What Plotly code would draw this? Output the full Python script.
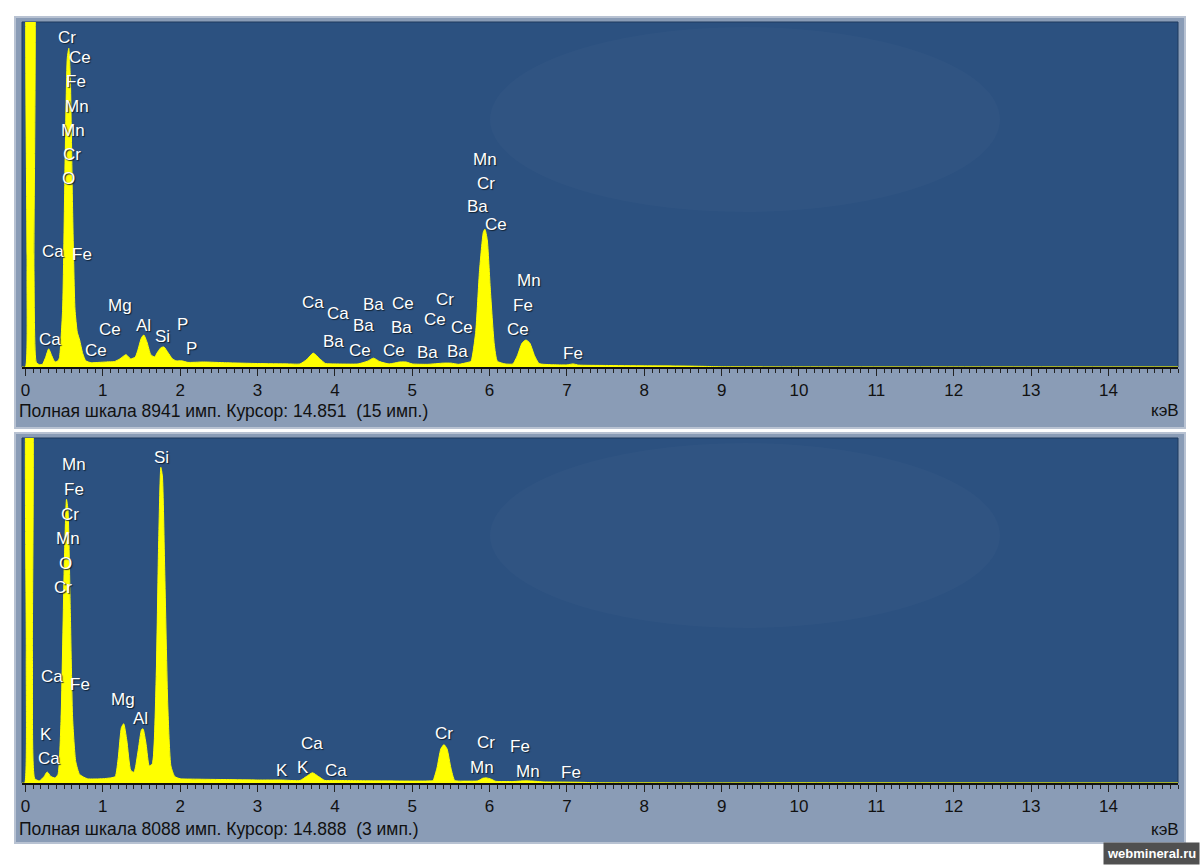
import plotly.graph_objects as go

# ---------------- data ----------------
top_keV = [-0.045, 0.00, 0.02, 0.04, 0.09, 0.11, 0.14, 0.18, 0.22, 0.26, 0.30, 0.34, 0.38, 0.42,
           0.44, 0.48, 0.51, 0.54, 0.56, 0.58, 0.61, 0.64, 0.67, 0.70, 0.74, 0.78, 0.85, 0.95, 1.05,
           1.15, 1.22, 1.30, 1.36, 1.42, 1.45, 1.50, 1.53, 1.57, 1.62, 1.67, 1.70, 1.75, 1.79, 1.84,
           1.90, 1.95, 2.02, 2.10, 2.30, 2.60, 3.00, 3.40, 3.55, 3.64, 3.72, 3.80, 3.88, 4.00, 4.30,
           4.42, 4.50, 4.58, 4.70, 4.84, 4.92, 5.00, 5.20, 5.40, 5.50, 5.60, 5.72, 5.76, 5.82, 5.87,
           5.92, 5.94, 5.97, 6.01, 6.06, 6.10, 6.20, 6.30, 6.36, 6.42, 6.47, 6.52, 6.58, 6.64, 6.80,
           7.00, 7.08, 7.15, 7.50, 8.00, 8.50, 8.80, 9.00, 10.0, 12.0, 14.9]
top_counts = [0, 0, 2500, 12000, 12000, 2500, 120, 60, 70, 250, 470, 290, 130, 160,
              250, 1500, 5000, 8000, 8260, 7500, 4000, 1500, 900, 700, 350, 160, 110, 120, 130,
              140, 210, 320, 210, 260, 420, 760, 830, 650, 320, 260, 360, 500, 520, 380,
              210, 160, 160, 120, 130, 110, 90, 80, 80, 200, 360, 220, 90, 80, 80,
              150, 230, 140, 80, 130, 130, 80, 70, 100, 100, 70, 120, 150, 900, 2500,
              3500, 3570, 3300, 2000, 600, 150, 80, 80, 300, 620, 700, 620, 300, 90, 60,
              55, 80, 50, 40, 30, 25, 15, 5, 3, 2, 2]

bot_keV = [-0.045, -0.01, 0.01, 0.03, 0.07, 0.09, 0.12, 0.18, 0.24, 0.28, 0.33, 0.38, 0.42, 0.46,
           0.50, 0.53, 0.55, 0.58, 0.61, 0.65, 0.70, 0.80, 1.00, 1.10, 1.16, 1.20, 1.24, 1.27, 1.31,
           1.36, 1.40, 1.42, 1.46, 1.50, 1.52, 1.56, 1.60, 1.64, 1.69, 1.72, 1.75, 1.77, 1.80,
           1.84, 1.88, 1.93, 2.00, 2.20, 2.60, 3.00, 3.30, 3.55, 3.63, 3.71, 3.79, 3.87, 4.00, 4.50,
           5.00, 5.25, 5.27, 5.32, 5.37, 5.41, 5.45, 5.50, 5.55, 5.70, 5.85, 5.91, 5.96, 6.02, 6.08,
           6.30, 6.45, 6.55, 6.70, 7.00, 7.20, 7.40, 10.0, 14.9]
bot_counts = [0, 0, 3000, 10000, 10000, 3000, 100, 50, 150, 260, 150, 120, 200, 1500,
              5000, 6650, 6400, 4000, 1500, 500, 200, 100, 100, 120, 150, 600, 1300, 1390, 1000,
              300, 250, 350, 800, 1250, 1270, 900, 400, 450, 2500, 5500, 7400, 7200, 5000,
              1800, 400, 150, 100, 90, 80, 70, 70, 60, 150, 240, 150, 60, 60, 50,
              45, 50, 60, 350, 800, 900, 800, 350, 60, 45, 50, 110, 120, 90, 40,
              35, 50, 45, 25, 20, 15, 5, 3, 2]

top_full_scale = 8941
bot_full_scale = 8088

top_labels = ["Cr", "Ce", "Fe", "Mn", "Mn", "Cr", "O", "Ca", "Fe", "Mg", "Ce", "Al", "Si", "P", "P",
              "Ca", "Ce", "Ca", "Ca", "Ba", "Ba", "Ba", "Ce", "Ce", "Ba", "Ce", "Cr", "Ce", "Ce",
              "Ba", "Ba", "Mn", "Cr", "Ba", "Ce", "Mn", "Fe", "Ce", "Fe"]
top_label_x = [0.54, 0.71, 0.65, 0.67, 0.61, 0.60, 0.55, 0.36, 0.73, 1.22, 1.09, 1.52, 1.77, 2.03, 2.15,
               0.32, 0.91, 3.72, 4.04, 3.98, 4.50, 4.37, 4.33, 4.88, 4.86, 4.76, 5.43, 5.30, 5.64,
               5.20, 5.58, 5.94, 5.96, 5.84, 6.08, 6.51, 6.43, 6.37, 7.08]
top_label_y = [8550, 8030, 7400, 6750, 6130, 5500, 4875, 3000, 2920, 1590, 960, 1070, 780, 1100, 470,
               700, 440, 1670, 1380, 650, 1620, 1070, 440, 1640, 1020, 420, 1750, 1220, 1020,
               370, 390, 5370, 4745, 4170, 3700, 2240, 1590, 960, 340]

bot_labels = ["Mn", "Fe", "Cr", "Mn", "O", "Cr", "Ca", "Fe", "Si", "Mg", "Al", "K", "Ca",
              "Ca", "K", "K", "Ca", "Cr", "Cr", "Mn", "Fe", "Mn", "Fe"]
bot_label_x = [0.63, 0.63, 0.58, 0.55, 0.52, 0.49, 0.34, 0.70, 1.755, 1.26, 1.49, 0.26, 0.31,
               3.70, 3.31, 3.59, 4.02, 5.41, 5.95, 5.90, 6.39, 6.50, 7.05]
bot_label_y = [7475, 6885, 6300, 5730, 5140, 4575, 2500, 2310, 7640, 1960, 1510, 1130, 570,
               920, 300, 355, 300, 1150, 945, 355, 850, 260, 240]

top_status = "Полная шкала 8941 имп. Курсор: 14.851  (15 имп.)"
bot_status = "Полная шкала 8088 имп. Курсор: 14.888  (3 имп.)"
unit_label = "кэВ"
tick_vals = list(range(0, 15))

# ---------------- figure ----------------
W, H = 1200, 865
PLOT_BLUE = "#2c5180"
GRAY = "#8a9cb6"
YELLOW = "#ffff00"
FONT = "Liberation Sans, Arial, sans-serif"

def py(p):  # pixel row -> paper y
    return 1 - p / H

def px(p):
    return p / W

fig = go.Figure()
fig.add_trace(go.Scatter(x=top_keV, y=top_counts, mode="lines", fill="tozeroy",
                         line=dict(color=YELLOW, width=1, shape="spline", smoothing=0.5),
                         fillcolor=YELLOW, xaxis="x", yaxis="y", hoverinfo="skip", showlegend=False))
fig.add_trace(go.Scatter(x=bot_keV, y=bot_counts, mode="lines", fill="tozeroy",
                         line=dict(color=YELLOW, width=1, shape="spline", smoothing=0.5),
                         fillcolor=YELLOW, xaxis="x2", yaxis="y2", hoverinfo="skip", showlegend=False))

shapes = []
annotations = []
panels = [
    dict(frame=(17, 428), plot=(22, 367), status=top_status, sy=411),
    dict(frame=(433, 843), plot=(438, 783), status=bot_status, sy=829),
]
for p in panels:
    f0, f1 = p["frame"]
    p0, p1 = p["plot"]
    shapes.append(dict(type="rect", xref="paper", yref="paper", x0=px(15), x1=px(1185),
                       y0=py(f1), y1=py(f0), fillcolor=GRAY, line=dict(color="#b8c2d2", width=2),
                       layer="below"))
    shapes.append(dict(type="rect", xref="paper", yref="paper", x0=px(22), x1=px(1178),
                       y0=py(p1), y1=py(p0), fillcolor=PLOT_BLUE, line=dict(color="#1f3a5e", width=1),
                       layer="below"))
    # faint lighter blotch like the background image
    shapes.append(dict(type="circle", xref="paper", yref="paper", x0=px(490), x1=px(1000),
                       y0=py(p0 + 190), y1=py(p0 + 5), fillcolor="rgba(255,255,255,0.02)",
                       line=dict(width=0), layer="below"))
    annotations.append(dict(xref="paper", yref="paper", x=px(17), y=py(p["sy"]), text=p["status"],
                            showarrow=False, xanchor="left", yanchor="middle",
                            font=dict(family=FONT, size=17.5, color="#111111")))
    annotations.append(dict(xref="paper", yref="paper", x=px(1181), y=py(p["sy"]), text=unit_label,
                            showarrow=False, xanchor="right", yanchor="middle",
                            font=dict(family=FONT, size=17, color="#111111")))

label_font = dict(family=FONT, size=17, color="white", shadow="1px 1px 1px #102030")
for txt, lx, ly in zip(top_labels, top_label_x, top_label_y):
    annotations.append(dict(x=lx, y=ly, xref="x", yref="y", text=txt, showarrow=False,
                            xanchor="center", yanchor="middle", font=label_font))
for txt, lx, ly in zip(bot_labels, bot_label_x, bot_label_y):
    annotations.append(dict(x=lx, y=ly, xref="x2", yref="y2", text=txt, showarrow=False,
                            xanchor="center", yanchor="middle", font=label_font))

annotations.append(dict(xref="paper", yref="paper", x=1, y=0, text="<b>webmineral.ru</b>",
                        showarrow=False, xanchor="right", yanchor="bottom", bgcolor="#505050",
                        borderpad=3, font=dict(family=FONT, size=13, color="white")))

xcommon = dict(range=[-0.045, 14.9], showgrid=False, zeroline=False, showline=True,
               linecolor="#111111", linewidth=2, ticks="outside", ticklen=7, tickwidth=1,
               tickcolor="#222222", tickvals=tick_vals, ticktext=[str(t) for t in tick_vals],
               tickfont=dict(family=FONT, size=17, color="#111111"),
               minor=dict(dtick=0.1, tick0=0, ticks="outside", ticklen=4, tickcolor="#222222",
                          tickwidth=1, showgrid=False),
               fixedrange=True)
fig.update_layout(
    width=W, height=H, margin=dict(l=0, r=0, t=0, b=0),
    paper_bgcolor="white", plot_bgcolor="rgba(0,0,0,0)",
    xaxis=dict(domain=[px(22), px(1178)], anchor="y", **xcommon),
    yaxis=dict(domain=[py(367), py(22)], range=[0, top_full_scale], visible=False, fixedrange=True),
    xaxis2=dict(domain=[px(22), px(1178)], anchor="y2", **xcommon),
    yaxis2=dict(domain=[py(783), py(438)], range=[0, bot_full_scale], visible=False, fixedrange=True),
    shapes=shapes, annotations=annotations, showlegend=False,
)
fig.write_html("out.html", config={"displayModeBar": False},
               post_script="document.body.style.margin='0px';document.body.style.overflow='hidden';")
